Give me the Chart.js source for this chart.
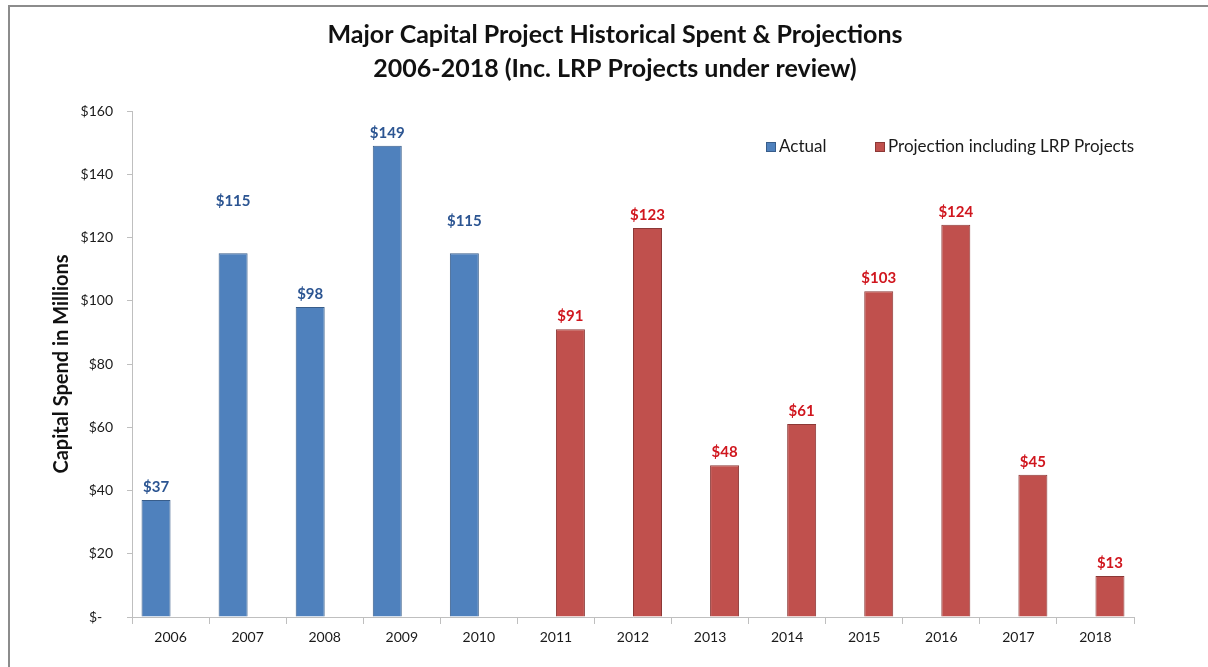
<!DOCTYPE html>
<html>
<head>
<meta charset="utf-8">
<script src="https://cdn.jsdelivr.net/npm/chart.js@4.4.1/dist/chart.umd.min.js"></script>
<style>
    html, body { margin: 0; padding: 0; background: #ffffff; }
    #ChartWrap { width: 1208px; height: 667px; position: relative; }
</style>
</head>
<body>
<div id="ChartWrap"><canvas id="ChartCanvas1"></canvas></div>
<script>
// Chart data
const years       = ['2006', '2007', '2008', '2009', '2010', '2011', '2012', '2013', '2014', '2015', '2016', '2017', '2018'];
const actual      = [37, 115, 98, 149, 115, null, null, null, null, null, null, null, null];
const projection  = [null, null, null, null, null, 91, 123, 48, 61, 103, 124, 45, 13];
const yTicks      = [0, 20, 40, 60, 80, 100, 120, 140, 160];

const chartTitle  = ['Major Capital Project Historical Spent & Projections', '2006-2018 (Inc. LRP Projects under review)'];
const yTitle      = 'Capital Spend in Millions';

const FONT = 'Lato, "Open Sans", sans-serif';

Initialize();

function Initialize()
{
    const ctx = document.getElementById('ChartCanvas1').getContext('2d');

    // Frame round the whole picture (only left and top edges visible) + the two-line title
    const framePlugin =
    {
        id: 'frame',
        beforeDraw(chart, args, opts)
        {
            const c = chart.ctx;
            c.save();
            c.fillStyle = '#ffffff';
            c.fillRect(0, 0, chart.width, chart.height);
            c.strokeStyle = '#8c8c8c';
            c.lineWidth = 2;
            c.strokeRect(9, 6, chart.width + 20, chart.height + 20);

            // Title is centred on the picture, not on the plot area
            c.fillStyle = '#111111';
            c.font = 'bold 25px ' + FONT;
            c.textAlign = 'center';
            c.textBaseline = 'middle';
            opts.lines.forEach((t, i) => c.fillText(t, opts.x, opts.y + i * opts.step));
            c.restore();
        }
    };

    // Value labels above each bar
    const valueLabelPlugin =
    {
        id: 'valueLabels',
        afterDatasetsDraw(chart, args, opts)
        {
            const c = chart.ctx;
            c.save();
            c.font = 'bold 15px ' + FONT;
            c.textAlign = 'center';
            c.textBaseline = 'middle';
            chart.data.datasets.forEach((ds, di) =>
            {
                const meta = chart.getDatasetMeta(di);
                c.fillStyle = opts.colors[di];
                meta.data.forEach((bar, i) =>
                {
                    const v = ds.data[i];
                    if (v === null || v === undefined) return;
                    const lift = 13 + ((opts.extraLift[di] || [])[i] || 0);
                    c.fillText('$' + Math.round(v), bar.x, bar.y - lift);
                });
            });
            c.restore();
        }
    };

    // Legend drawn inside plot area, top right
    const legendPlugin =
    {
        id: 'insideLegend',
        afterDraw(chart, args, opts)
        {
            const c = chart.ctx;
            c.save();
            c.font = '17px ' + FONT;
            c.textBaseline = 'middle';
            chart.data.datasets.forEach((ds, di) =>
            {
                const x = opts.xs[di];
                const y = opts.y;
                c.fillStyle = ds.backgroundColor;
                c.fillRect(x, y - 5, 10, 10);
                c.strokeStyle = ds.borderColor;
                c.lineWidth = 1;
                c.strokeRect(x + 0.5, y - 4.5, 9, 9);
                c.fillStyle = '#1a1a1a';
                c.fillText(ds.label, x + 13, y);
            });
            c.restore();
        }
    };

    const chart = new Chart(ctx,
    {
        type: 'bar',
        data:
        {
            labels: years,
            datasets:
            [
                {
                    label: 'Actual',
                    data: actual,
                    backgroundColor: '#4f81bd',
                    borderColor: '#385d8a',
                    borderWidth: 1
                },
                {
                    label: 'Projection including LRP Projects',
                    data: projection,
                    backgroundColor: '#c0504d',
                    borderColor: '#8c3836',
                    borderWidth: 1
                }
            ]
        },
        plugins: [framePlugin, valueLabelPlugin, legendPlugin],
        options:
        {
            responsive: true,
            maintainAspectRatio: false,
            animation: false,
            categoryPercentage: 0.7525,
            barPercentage: 1.0,
            layout: { padding: { left: 0, right: 74, top: 111, bottom: 0 } },
            plugins:
            {
                legend: { display: false },
                tooltip: { enabled: false },
                title: { display: false },
                frame:
                {
                    lines: chartTitle,
                    x: 615,
                    y: 35,
                    step: 34
                },
                valueLabels:
                {
                    colors: ['#2c5592', '#d0161e'],
                    extraLift: [[0, 39, 0, 0, 19]]
                },
                insideLegend:
                {
                    xs: [766, 875],
                    y: 147
                }
            },
            scales:
            {
                x:
                {
                    grid: { offset: true, drawOnChartArea: false, drawTicks: true, tickLength: 7, color: '#bfbfbf' },
                    border: { color: '#bfbfbf' },
                    ticks: { color: '#1a1a1a', font: { family: FONT, size: 14 }, padding: 5, maxRotation: 0 },
                    afterFit(scale) { scale.height = 50; }
                },
                y:
                {
                    min: 0,
                    max: 160,
                    afterBuildTicks(scale) { scale.ticks = yTicks.map(v => ({ value: v })); },
                    grid: { drawOnChartArea: false, drawTicks: true, tickLength: 5, color: '#bfbfbf' },
                    border: { color: '#bfbfbf' },
                    ticks:
                    {
                        color: '#1a1a1a',
                        font: { family: FONT, size: 14 },
                        padding: 14,
                        callback: v => v === 0 ? '$-   ' : '$' + v
                    },
                    title:
                    {
                        display: true,
                        text: yTitle,
                        color: '#111111',
                        font: { family: FONT, size: 20, weight: 'bold' },
                        padding: { top: 50, bottom: 0 }
                    },
                    afterFit(scale) { scale.width = 132; }
                }
            }
        }
    });
}
</script>
</body>
</html>
